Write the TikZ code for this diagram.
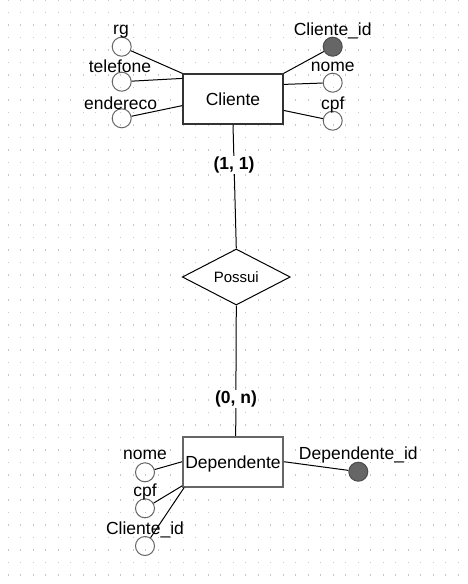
\documentclass[tikz,border=0pt]{standalone}
\usepackage{fontspec}
\setmainfont{Liberation Sans}
\usetikzlibrary{shapes.geometric}
\begin{document}
\begin{tikzpicture}[x=1pt,y=-1pt,
  ent/.style={draw=black!80, line width=1.2pt, fill=white, minimum width=100pt, minimum height=50pt, inner sep=0pt, text depth=0pt, font=\fontsize{17.5}{20}\selectfont},
  rel/.style={diamond, draw=black, line width=1pt, fill=white, minimum width=108pt, minimum height=56pt, inner sep=0pt, aspect=1.93, font=\fontsize{15}{18}\selectfont},
  attr/.style={circle, draw=black!60, line width=1pt, minimum size=19pt, inner sep=0pt},
  keyattr/.style={attr, fill=black!60, draw=black!70},
  lbl/.style={anchor=base, inner sep=0pt, font=\fontsize{17.5}{20}\selectfont},
  card/.style={fill=white, inner sep=1pt, font=\bfseries\fontsize{17.5}{20}\selectfont},
  conn/.style={draw=black, line width=1pt}]
\useasboundingbox (0,0) rectangle (467,584);
\fill[white] (0,0) rectangle (467,584);
% dot grid
\foreach \i in {0,...,36} {
  \foreach \j in {0,...,46} {
    \fill[black!22] (8.3+12.5*\i-0.6, 12.5*\j-0.6) rectangle ++(1.2,1.2);
  }
}
% entities and relationship
\node[ent] (cli) at (233,99) {Cliente};
\node[ent, draw=black!60, line width=1.6pt] (dep) at (233,461.7) {Dependente};
\node[rel] (pos) at (236.3,277) {Possui};
% Cliente attributes
\node[attr] (rg) at (121.7,46.7) {};
\node[lbl] (rgl) at (121,34.3) {rg};
\node[attr] (tel) at (121.7,81.7) {};
\node[lbl] (tell) at (120,72.3) {telefone};
\node[attr] (end) at (121.7,118.3) {};
\node[lbl] (endl) at (120.7,109) {endereco};
\node[keyattr] (cid) at (332.7,46.7) {};
\node[lbl] (cidl) at (332.7,35) {Cliente\_id};
\node[attr] (nome) at (332.7,82.7) {};
\node[lbl] (nomel) at (332.7,71.7) {nome};
\node[attr] (cpf) at (332.7,120.7) {};
\node[lbl] (cpfl) at (332.7,109) {cpf};
% Dependente attributes
\node[attr] (dnome) at (145,472.3) {};
\node[lbl] (dnomel) at (145,459) {nome};
\node[attr] (dcpf) at (145,508.3) {};
\node[lbl] (dcpfl) at (145,496) {cpf};
\node[attr] (dcid) at (145,546) {};
\node[lbl] (dcidl) at (145,534.3) {Cliente\_id};
\node[keyattr] (did) at (358.3,471.7) {};
\node[lbl] (didl) at (358.3,459) {Dependente\_id};
% connectors
\draw[conn] (rg) -- (cli.north west);
\draw[conn] (tel) -- ([yshift=-5pt]cli.north west);
\draw[conn] (end) -- ([yshift=19pt]cli.south west);
\draw[conn] (cid) -- (cli.north east);
\draw[conn] (nome) -- ([yshift=-11pt]cli.north east);
\draw[conn] (cpf) -- ([yshift=-37pt]cli.north east);
\draw[conn] (dnome) -- (dep.west);
\draw[conn] (dcpf) -- ([yshift=1.7pt]dep.south west);
\draw[conn] (dcid) -- ([xshift=2pt]dep.south west);
\draw[conn] (did) -- (dep.east);
\draw[conn] (cli.south) -- (pos.north);
\draw[conn] (pos.south) -- ([xshift=2.7pt]dep.north);
% cardinalities
\node[card] (c1) at (234,165) {(1, 1)};
\node[card] (c2) at (236,399.3) {(0, n)};
\end{tikzpicture}
\end{document}
